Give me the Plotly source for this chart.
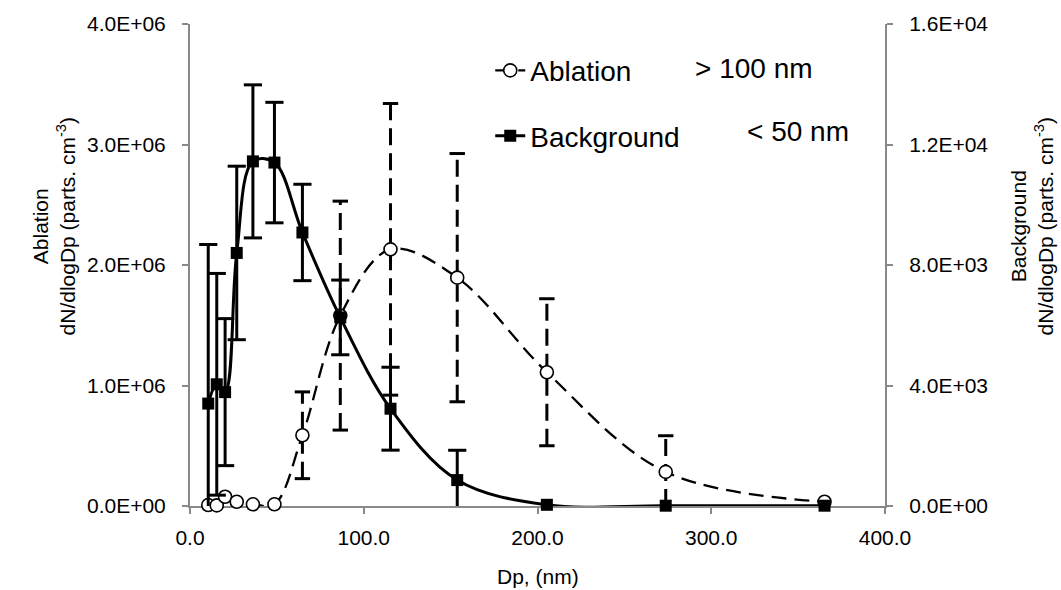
import plotly.graph_objects as go

# ---------------- data ----------------
dp_nm = [10.5, 15.4, 20.2, 26.9, 36.2, 48.6, 64.7, 86.5, 115.4, 153.8, 205.4, 273.8, 365.2]

ablation = [0.008e6, 0.005e6, 0.077e6, 0.035e6, 0.014e6, 0.014e6, 0.587e6,
            1.58e6, 2.13e6, 1.895e6, 1.11e6, 0.283e6, 0.035e6]
ablation_err = [0, 0, 0, 0, 0, 0, 0.36e6, 0.95e6, 1.21e6, 1.03e6, 0.61e6, 0.30e6, 0]

background = [3400, 4040, 3780, 8400, 11440, 11400, 9080, 6260, 3230, 860, 40, 10, 10]
background_err = [5280, 3680, 2440, 2880, 2540, 2000, 1600, 1240, 1376, 990, 0, 0, 0]

x_ticks = [0, 100, 200, 300, 400]
y1_ticks = [0, 1e6, 2e6, 3e6, 4e6]
y1_labels = ["0.0E+00", "1.0E+06", "2.0E+06", "3.0E+06", "4.0E+06"]
y2_ticks = [0, 4000, 8000, 12000, 16000]
y2_labels = ["0.0E+00", "4.0E+03", "8.0E+03", "1.2E+04", "1.6E+04"]

FONT = "Liberation Sans, Arial, sans-serif"
AXC = "#898989"
TICK_SIZE = 21
BIG = 28


def err_bars(x, y, e):
    xs, ys, cx, cy = [], [], [], []
    for xi, yi, ei in zip(x, y, e):
        if ei <= 0:
            continue
        lo = max(yi - ei, 0)
        hi = yi + ei
        xs += [xi, xi, None]
        ys += [lo, hi, None]
        cx.append(xi); cy.append(hi)
        if yi - ei > 0:
            cx.append(xi); cy.append(lo)
    return xs, ys, cx, cy


fig = go.Figure()

# Ablation error bars (dashed)
ex, ey, cx, cy = err_bars(dp_nm, ablation, ablation_err)
fig.add_trace(go.Scatter(x=ex, y=ey, mode="lines", showlegend=False, hoverinfo="skip",
                         line=dict(color="black", width=3, dash="17px,8px")))
fig.add_trace(go.Scatter(x=cx, y=cy, mode="markers", showlegend=False, hoverinfo="skip",
                         cliponaxis=False,
                         marker=dict(symbol="line-ew", size=11, line=dict(width=3, color="black"))))

# Ablation curve
fig.add_trace(go.Scatter(x=dp_nm, y=ablation, name="Ablation", mode="lines+markers",
                         line=dict(color="black", width=2.3, dash="15px,8px", shape="spline", smoothing=1.0),
                         marker=dict(symbol="circle", size=13, color="white", line=dict(width=1.6, color="black")),
                         cliponaxis=False, legendgroup="a"))

# Background error bars (solid) on secondary axis
bx, by, bcx, bcy = err_bars(dp_nm, background, background_err)
fig.add_trace(go.Scatter(x=bx, y=by, yaxis="y2", mode="lines", showlegend=False, hoverinfo="skip",
                         line=dict(color="black", width=3)))
fig.add_trace(go.Scatter(x=bcx, y=bcy, yaxis="y2", mode="markers", showlegend=False, hoverinfo="skip",
                         cliponaxis=False,
                         marker=dict(symbol="line-ew", size=13, line=dict(width=3, color="black"))))

# Background curve
fig.add_trace(go.Scatter(x=dp_nm, y=background, name="Background", yaxis="y2", mode="lines+markers",
                         line=dict(color="black", width=3, shape="spline", smoothing=1.0),
                         marker=dict(symbol="square", size=12, color="black"),
                         cliponaxis=False, legendgroup="b"))

axis_common = dict(showline=True, linecolor=AXC, linewidth=2, ticks="outside", ticklen=6,
                   tickcolor=AXC, tickwidth=2, showgrid=False, zeroline=False,
                   layer="below traces", tickfont=dict(size=TICK_SIZE, family=FONT))

fig.update_layout(
    width=1061, height=590,
    margin=dict(l=190, r=176, t=22, b=84, pad=0),
    paper_bgcolor="white", plot_bgcolor="white",
    font=dict(family=FONT, size=TICK_SIZE, color="black"),
    showlegend=True,
    legend=dict(x=0.432, y=0.955, xanchor="left", yanchor="top",
                font=dict(size=BIG, family=FONT), bgcolor="rgba(0,0,0,0)",
                traceorder="grouped", tracegroupgap=26),
    xaxis=dict(range=[0, 400], tickvals=x_ticks, tickformat=".1f", ticklabelstandoff=6, **axis_common),
    yaxis=dict(range=[0, 4e6], tickvals=y1_ticks, ticktext=y1_labels, ticklabelstandoff=12, **axis_common),
    yaxis2=dict(range=[0, 16000], tickvals=y2_ticks, ticktext=y2_labels, overlaying="y", side="right",
                ticklabelstandoff=12, **axis_common),
    annotations=[
        dict(text="> 100 nm", x=(754 - 190) / 695, y=(506 - 67) / 484, xref="paper", yref="paper",
             showarrow=False, font=dict(size=BIG, family=FONT), xanchor="center", yanchor="middle"),
        dict(text="< 50 nm", x=(798 - 190) / 695, y=(506 - 130) / 484, xref="paper", yref="paper",
             showarrow=False, font=dict(size=BIG, family=FONT), xanchor="center", yanchor="middle"),
        dict(text="Ablation<br>dN/dlogDp (parts. cm<sup>-3</sup>)", x=(54 - 190) / 695, y=0.58,
             xref="paper", yref="paper", showarrow=False, textangle=-90,
             font=dict(size=21, family=FONT), xanchor="center", yanchor="middle"),
        dict(text="Background<br>dN/dlogDp (parts. cm<sup>-3</sup>)", x=(1032 - 190) / 695, y=0.58,
             xref="paper", yref="paper", showarrow=False, textangle=-90,
             font=dict(size=21, family=FONT), xanchor="center", yanchor="middle"),
        dict(text="Dp, (nm)", x=0.5, y=(506 - 577) / 484, xref="paper", yref="paper",
             showarrow=False, font=dict(size=21, family=FONT), xanchor="center", yanchor="middle"),
    ],
)

fig.write_html("out.html", config={"displayModeBar": False},
               post_script="document.body.style.margin='0';document.body.style.overflow='hidden';")
